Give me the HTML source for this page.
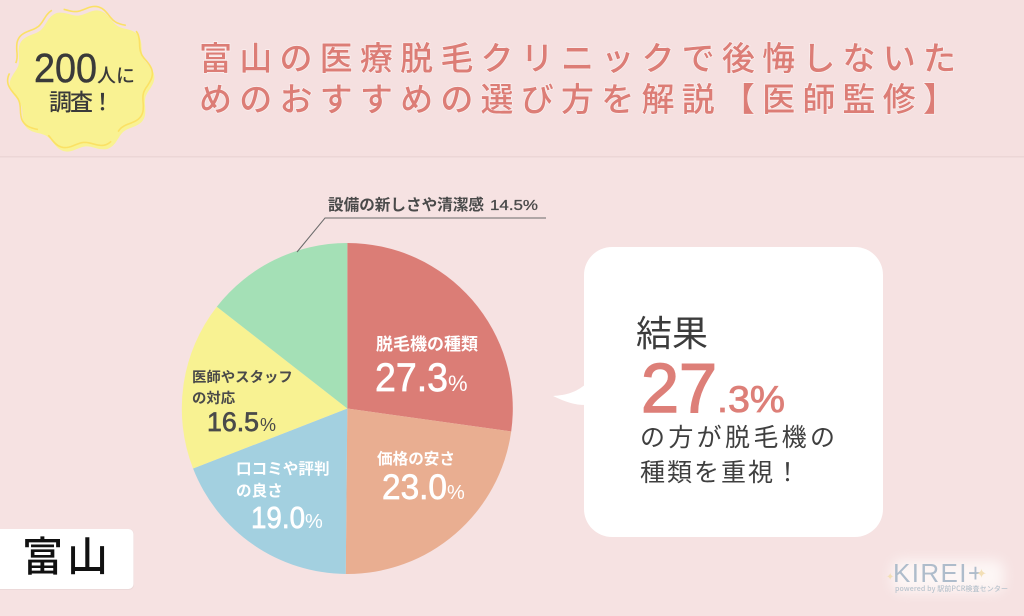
<!DOCTYPE html>
<html lang="ja">
<head>
<meta charset="utf-8">
<title>富山の医療脱毛クリニック</title>
<style>
html,body{margin:0;padding:0;background:#f5e1e1;}
#stage{position:relative;width:1024px;height:616px;overflow:hidden;background:#f5e1e1;}
svg{position:absolute;left:0;top:0;display:block;}
text{font-family:"Liberation Sans","Noto Sans CJK JP",sans-serif;}
.jp{font-family:"Noto Sans CJK JP",sans-serif;}
.num{font-family:"Liberation Sans",sans-serif;}
</style>
</head>
<body>
<div id="stage">
<svg id="chart" width="1024" height="616" viewBox="0 0 1024 616" xmlns="http://www.w3.org/2000/svg">
  <defs>
    <filter id="soft" x="-30%" y="-60%" width="160%" height="220%"><feGaussianBlur stdDeviation="6"/></filter>
  </defs>
  <rect x="0" y="0" width="1024" height="156" fill="#f5e0e0"/>
  <rect x="0" y="156" width="1024" height="1.5" fill="#ecd6d6"/>
  <rect x="0" y="158" width="1024" height="458" fill="#f6e2e2"/>

  <g id="badge"></g>
  <text class="num" x="34" y="82" font-size="41" fill="#3a3a3a" stroke="#3a3a3a" stroke-width="0.5" textLength="63" lengthAdjust="spacingAndGlyphs">200</text>
  <text class="jp" x="97" y="82" font-size="19" font-weight="500" fill="#3a3a3a">人に</text>
  <text class="jp" x="49" y="110" font-size="23" font-weight="500" fill="#3a3a3a" textLength="65">調査！</text>

  <g fill="#dc7d76" font-size="33" font-weight="500" style="paint-order:stroke;stroke:#fbf0f0;stroke-width:1.4px">
    <text class="jp" x="199" y="70" textLength="757">富山の医療脱毛クリニックで後悔しないた</text>
    <text class="jp" x="199" y="111" textLength="757">めのおすすめの選び方を解説【医師監修】</text>
  </g>

  <g id="pie"></g>

  <polyline points="297,252 325,218 546,218" fill="none" stroke="#6b6b6b" stroke-width="1"/>
  <text class="jp" x="328" y="210" font-size="15.6" font-weight="700" fill="#4a4a4a">設備の新しさや清潔感</text>
  <text class="num" x="490" y="210" font-size="15" fill="#4a4a4a" stroke="#4a4a4a" stroke-width="0.3" textLength="48" lengthAdjust="spacingAndGlyphs">14.5%</text>

  <g font-weight="700" fill="#ffffff">
    <text class="jp" x="376" y="350" font-size="17">脱毛機の種類</text>
    <text class="jp" x="377" y="464" font-size="15.6">価格の安さ</text>
    <text class="jp" x="236" y="474" font-size="15.6">口コミや評判</text>
    <text class="jp" x="236" y="496" font-size="15.6">の良さ</text>
    <text class="jp" x="192" y="382" font-size="14.4" fill="#4a4a4a">医師やスタッフ</text>
    <text class="jp" x="192" y="403" font-size="14.4" fill="#4a4a4a">の対応</text>
  </g>
  <g id="values"></g>

  <g>
    <rect x="584" y="247" width="299" height="290" rx="28" ry="28" fill="#ffffff"/>
    <path d="M586,384 C575,393 566,395 553,396 C566,402 574,405 586,405 Z" fill="#ffffff"/>
  </g>
  <text class="jp" x="636" y="346" font-size="36" fill="#3c3c3c">結果</text>
  <text class="num" x="641" y="412" font-size="70" fill="#dd7f78" stroke="#dd7f78" stroke-width="1.6" textLength="76" lengthAdjust="spacingAndGlyphs">27</text>
  <text class="num" x="717" y="412" font-size="37" fill="#dd7f78" stroke="#dd7f78" stroke-width="0.8" textLength="68" lengthAdjust="spacingAndGlyphs">.3%</text>
  <text class="jp" x="640" y="446" font-size="25" fill="#3f3f3f" textLength="195">の方が脱毛機の</text>
  <text class="jp" x="640" y="481" font-size="25" fill="#3f3f3f" textLength="160">種類を重視！</text>

  <g>
    <rect x="-10" y="529" width="144" height="61" rx="5" fill="#ecd9d9"/>
    <rect x="-10" y="529" width="143.5" height="60" rx="5" fill="#ffffff"/>
    <text class="jp" x="22" y="571" font-size="41" font-weight="500" fill="#111111" textLength="86">富山</text>
  </g>

  <g>
    <rect x="892" y="560" width="112" height="32" rx="10" fill="#fdf6f5" filter="url(#soft)"/>
    <text class="num" x="893" y="582" font-size="26" fill="#aebccb" textLength="90">KIREI+</text>
    <text class="jp" x="895" y="591" font-size="7" font-weight="500" fill="#b8c3cd" textLength="113">powered by 駅前PCR検査センター</text>
    <text class="jp" x="886" y="580" font-size="10" fill="#f3dfb6">✦</text>
    <text class="jp" x="976" y="578" font-size="13" fill="#f3dfb6">✦</text>
  </g>
</svg>
</div>
<script>
var categories = ['脱毛機の種類', '価格の安さ', '口コミや評判の良さ', '医師やスタッフの対応', '設備の新しさや清潔感'];
var seriesValues = [27.3, 23.0, 19.0, 16.5, 14.5];
var valueLabels = ['27.3', '23.0', '19.0', '16.5'];
var sliceColors = ['#db7d76', '#e9ae91', '#a3d0e0', '#f8f292', '#a4e0b6'];

var SVGNS = 'http://www.w3.org/2000/svg';
var pieCx = 347.3, pieCy = 408.5, pieR = 165.5;
var valueAnchors = [
  {x: 375, y: 391, s: 40, c: '#ffffff', w: 73, px: 448, ps: 22},
  {x: 382, y: 499, s: 35, c: '#ffffff', w: 65, px: 447, ps: 20},
  {x: 251, y: 528, s: 31, c: '#ffffff', w: 54, px: 305, ps: 20},
  {x: 207, y: 431, s: 27, c: '#4a4a4a', w: 52, px: 260, ps: 18}
];

function total() {
  var t = 0;
  for (var i = 0; i < seriesValues.length; i++) t += seriesValues[i];
  return t;
}
function angleFor(cum) { return cum / total() * 2 * Math.PI - Math.PI / 2; }
function pointAt(a, r) { return [pieCx + r * Math.cos(a), pieCy + r * Math.sin(a)]; }

var pieGroup = document.getElementById('pie');
var cum = 0;
for (var i = 0; i < seriesValues.length; i++) {
  var a0 = angleFor(cum);
  cum += seriesValues[i];
  var a1 = angleFor(cum);
  var p0 = pointAt(a0, pieR), p1 = pointAt(a1, pieR);
  var large = (a1 - a0) > Math.PI ? 1 : 0;
  var slice = document.createElementNS(SVGNS, 'path');
  slice.setAttribute('d', 'M' + pieCx + ',' + pieCy + ' L' + p0[0] + ',' + p0[1] + ' A' + pieR + ',' + pieR + ' 0 ' + large + ' 1 ' + p1[0] + ',' + p1[1] + ' Z');
  slice.setAttribute('fill', sliceColors[i]);
  
  
  var tip = document.createElementNS(SVGNS, 'title');
  tip.textContent = categories[i] + ' ' + seriesValues[i] + '%';
  slice.appendChild(tip);
  pieGroup.appendChild(slice);
}

var valuesGroup = document.getElementById('values');
for (var j = 0; j < valueLabels.length; j++) {
  var v = valueAnchors[j];
  var num = document.createElementNS(SVGNS, 'text');
  num.setAttribute('x', v.x);
  num.setAttribute('y', v.y);
  num.setAttribute('font-size', v.s);
  num.setAttribute('fill', v.c);
  num.setAttribute('stroke', v.c);
  num.setAttribute('stroke-width', '0.7');
  num.setAttribute('textLength', v.w);
  num.setAttribute('lengthAdjust', 'spacingAndGlyphs');
  num.textContent = valueLabels[j];
  
  
  valuesGroup.appendChild(num);
  var pct = document.createElementNS(SVGNS, 'text');
  pct.setAttribute('x', v.px);
  pct.setAttribute('y', v.y);
  pct.setAttribute('font-size', v.ps);
  pct.setAttribute('fill', v.c);
  pct.textContent = '%';
  
  
  valuesGroup.appendChild(pct);
}

/* decorative scalloped badge */
var badge = document.getElementById('badge');
function scallop(cx, cy, r, amp) {
  var d = '';
  for (var k = 0; k <= 240; k++) {
    var t = k / 240 * 2 * Math.PI;
    var rr = r + amp * Math.cos(10 * t + 0.6);
    d += (k ? 'L' : 'M') + (cx + rr * Math.cos(t)).toFixed(1) + ',' + (cy + rr * Math.sin(t)).toFixed(1);
  }
  return d + 'Z';
}
var badgeFill = document.createElementNS(SVGNS, 'path');
badgeFill.setAttribute('d', scallop(82, 81, 69, 3.5));
badgeFill.setAttribute('fill', '#f9f292');


badge.appendChild(badgeFill);
var badgeRing = document.createElementNS(SVGNS, 'path');
badgeRing.setAttribute('d', scallop(80, 77, 69, 3.5));
badgeRing.setAttribute('fill', 'none');
badgeRing.setAttribute('stroke', '#fbe165');
badgeRing.setAttribute('stroke-width', '1.6');
badgeRing.setAttribute('stroke-dasharray', '70 12');


badge.appendChild(badgeRing);
</script>
</body>
</html>
